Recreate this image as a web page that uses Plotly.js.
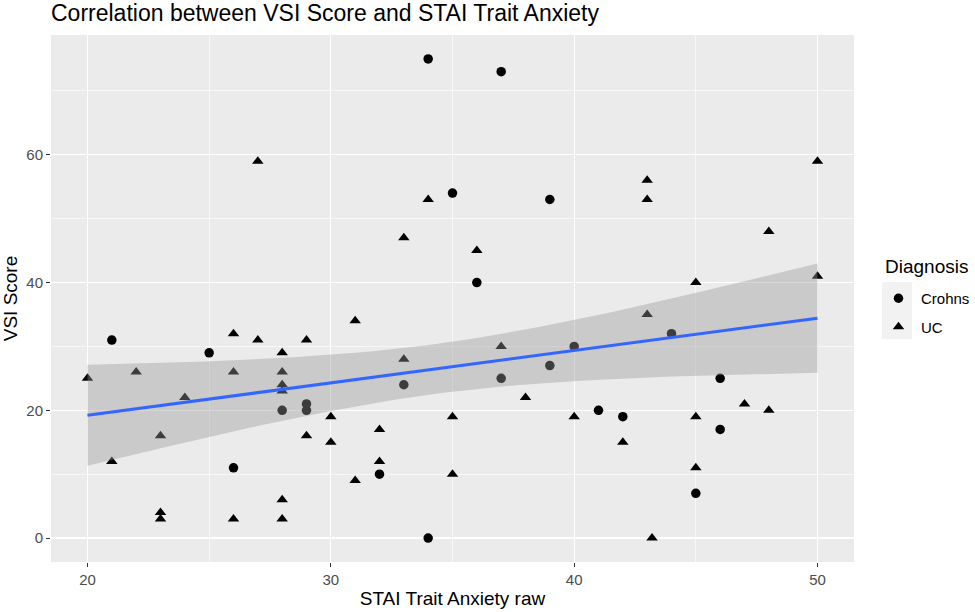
<!DOCTYPE html>
<html>
<head>
<meta charset="utf-8">
<script src="https://cdn.plot.ly/plotly-3.0.1.min.js"></script>
<style>html,body{margin:0;padding:0;background:#fff;}#chart{width:975px;height:612px;}</style>
</head>
<body>
<div id="chart"></div>
<script>
// Crohns (circles)
const crohnsX = [21, 25, 26, 28, 29, 29, 32, 33, 34, 34, 35, 36, 37, 37, 39, 39, 40, 41, 42, 44, 45, 46, 46];
const crohnsY = [31, 29, 11, 20, 20, 21, 10, 24, 75, 0, 54, 40, 73, 25, 53, 27, 30, 20, 19, 32, 7, 25, 17];
// UC (triangles)
const ucX = [20, 21, 22, 23, 23, 23, 24, 26, 26, 26, 27, 27, 28, 28, 28, 28, 28, 28, 29, 29, 30, 30, 31, 31, 32, 32, 33, 33, 34, 35, 35, 36, 37, 38, 40, 42, 43, 43, 43, 43.2, 45, 45, 45, 47, 48, 48, 50, 50];
const ucY = [25, 12, 26, 16, 4, 3, 22, 32, 26, 3, 59, 31, 29, 26, 24, 23, 6, 3, 31, 16, 19, 15, 34, 9, 17, 12, 47, 28, 53, 19, 10, 45, 30, 22, 19, 15, 56, 53, 35, 0, 40, 19, 11, 21, 20, 48, 59, 41];
const xTicks = [20, 30, 40, 50];
const yTicks = [0, 20, 40, 60];

// Linear fit with 95% confidence band (as geom_smooth(method = "lm"))
const allX = crohnsX.concat(ucX), allY = crohnsY.concat(ucY);
const n = allX.length;
const mx = allX.reduce((a,b)=>a+b,0)/n, my = allY.reduce((a,b)=>a+b,0)/n;
let sxx = 0, sxy = 0;
for (let i=0;i<n;i++){ sxx += (allX[i]-mx)**2; sxy += (allX[i]-mx)*(allY[i]-my); }
const slope = sxy/sxx, intercept = my - slope*mx;
let sse = 0;
for (let i=0;i<n;i++){ sse += (allY[i] - (intercept + slope*allX[i]))**2; }
const s = Math.sqrt(sse/(n-2));
const tcrit = 1.995;
const xmin = Math.min(...allX), xmax = Math.max(...allX);
const fx = [], fy = [], up = [], lo = [];
for (let k=0;k<=80;k++){
  const x = xmin + (xmax-xmin)*k/80;
  const y = intercept + slope*x;
  const se = s*Math.sqrt(1/n + (x-mx)**2/sxx);
  fx.push(x); fy.push(y); up.push(y + tcrit*se); lo.push(y - tcrit*se);
}
const bandX = fx.concat(fx.slice().reverse());
const bandY = up.concat(lo.slice().reverse());

const FONT = 'Liberation Sans, Arial, sans-serif';

const traces = [
  {x: crohnsX, y: crohnsY, type:'scatter', mode:'markers', name:'Crohns', legendgroup:'a',
   marker:{symbol:'circle', size:9.5, color:'#000000'}},
  {x: ucX, y: ucY, type:'scatter', mode:'markers', name:'UC', legendgroup:'b',
   marker:{symbol:'triangle-up', size:10, color:'#000000'}},
  {x: bandX, y: bandY, type:'scatter', mode:'lines', fill:'toself',
   fillcolor:'rgba(153,153,153,0.4)', line:{width:0}, showlegend:false, hoverinfo:'skip'},
  {x: fx, y: fy, type:'scatter', mode:'lines', line:{color:'#3366FF', width:3},
   showlegend:false}
];

const axisCommon = {
  showline:false, zeroline:false, ticks:'outside', ticklen:4, tickwidth:1, tickcolor:'#333333',
  gridcolor:'#FFFFFF', gridwidth:1.3, automargin:false,
  tickfont:{family:FONT, size:15, color:'#4D4D4D'}
};

const L = 51, R = 854, T = 35, B = 562;
const W = R - L, H = B - T;

const layout = {
  width:975, height:612,
  paper_bgcolor:'#FFFFFF', plot_bgcolor:'#EBEBEB',
  margin:{l:L, r:975-R, t:T, b:612-B, autoexpand:false},
  font:{family:FONT, color:'#000000'},
  title:{text:'Correlation between VSI Score and STAI Trait Anxiety', x:L/975, xref:'container', xanchor:'left',
         y:1-13/612, yref:'container', yanchor:'middle',
         font:{size:23, color:'#000000', family:FONT}},
  xaxis: Object.assign({}, axisCommon, {
    range:[18.5, 51.5], tickvals:xTicks, ticktext:xTicks.map(String),
    minor:{dtick:5, tick0:0, gridcolor:'#FFFFFF', gridwidth:0.6, ticks:''},
    title:{text:'STAI Trait Anxiety raw', standoff:4, font:{size:19, color:'#000000'}}
  }),
  yaxis: Object.assign({}, axisCommon, {
    range:[-3.75, 78.75], tickvals:yTicks, ticktext:yTicks.map(String),
    minor:{dtick:10, tick0:0, gridcolor:'#FFFFFF', gridwidth:0.6, ticks:''},
    title:{text:'VSI Score', standoff:6, font:{size:19, color:'#000000'}}
  }),
  legend:{x:(876-L)/W, xanchor:'left', y:(B-282)/H, yanchor:'top',
          bgcolor:'rgba(0,0,0,0)', tracegroupgap:6, traceorder:'grouped', itemwidth:35,
          font:{size:15, color:'#000000'}},
  annotations:[{text:'Diagnosis', xref:'paper', yref:'paper', x:(883-L)/W, y:(B-266)/H,
                xanchor:'left', yanchor:'middle', showarrow:false,
                font:{size:19, color:'#000000', family:FONT}}],
  shapes:[{type:'rect', xref:'paper', yref:'paper', layer:'below',
           x0:(882-L)/W, x1:(912-L)/W, y0:(B-339)/H, y1:(B-282)/H,
           fillcolor:'#F2F2F2', line:{width:0}}]
};

Plotly.newPlot('chart', traces, layout, {displayModeBar:false, staticPlot:true});
</script>
</body>
</html>
